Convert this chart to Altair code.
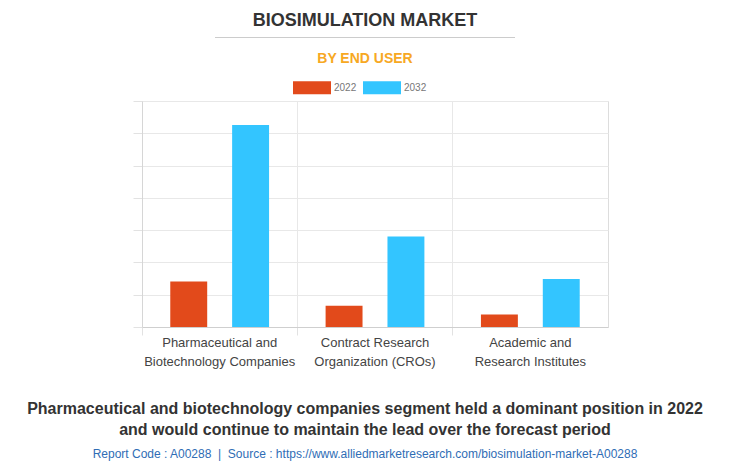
import altair as alt
import pandas as pd

categories = [
    "Pharmaceutical and Biotechnology Companies",
    "Contract Research Organization (CROs)",
    "Academic and Research Institutes",
]
label_lines = [
    ["Pharmaceutical and", "Biotechnology Companies"],
    ["Contract Research", "Organization (CROs)"],
    ["Academic and", "Research Institutes"],
]
years = ["2022", "2032"]
values_2022 = [1.41, 0.66, 0.39]
values_2032 = [6.26, 2.80, 1.49]
colors = ["#E24A1B", "#33C5FF"]

rows = []
for c, v1, v2 in zip(categories, values_2022, values_2032):
    rows.append({"category": c, "year": "2022", "value": v1})
    rows.append({"category": c, "year": "2032", "value": v2})
df = pd.DataFrame(rows)

W, H = 466, 226
FONT = "Liberation Sans"

label_map = "{" + ", ".join(
    "'%s': ['%s', '%s']" % (c, l[0], l[1]) for c, l in zip(categories, label_lines)
) + "}"

bars = alt.Chart(df).mark_bar().encode(
    x=alt.X("category:N", sort=categories, title=None,
            scale=alt.Scale(paddingInner=0, paddingOuter=0),
            axis=alt.Axis(bandPosition=0, labelAngle=0,
                          labelExpr=label_map + "[datum.label]",
                          labelFont=FONT, labelFontSize=13, labelColor="#444",
                          labelLineHeight=19, labelPadding=1,
                          ticks=True, tickSize=8, tickColor="#e2e2e2",
                          grid=True, gridColor="#e8e8e8",
                          domain=True, domainColor="#cfcfcf")),
    xOffset=alt.XOffset("year:N", sort=years,
                        scale=alt.Scale(paddingInner=0.403, paddingOuter=0.457)),
    y=alt.Y("value:Q", title=None,
            scale=alt.Scale(domain=[0, 7], nice=False),
            axis=alt.Axis(values=list(range(0, 8)), labels=False,
                          ticks=True, tickSize=9, tickColor="#e2e2e2",
                          grid=True, gridColor="#e8e8e8",
                          domain=True, domainColor="#d6d6d6")),
    color=alt.Color("year:N", sort=years,
                    scale=alt.Scale(domain=years, range=colors),
                    legend=alt.Legend(title=None, orient="none", direction="horizontal",
                                      legendX=151, legendY=-32.5,
                                      symbolType="M-1,-0.342H1V0.342H-1Z",
                                      symbolSize=1444, symbolStrokeWidth=0,
                                      labelFont=FONT, labelFontSize=10, labelColor="#777",
                                      labelOffset=3, columnPadding=6, padding=0)),
)

def txt(text, x, y, size, color, weight="normal"):
    return alt.Chart(pd.DataFrame({"t": [text]})).mark_text(
        font=FONT, fontSize=size, color=color, fontWeight=weight,
        align="center", baseline="middle"
    ).encode(text="t:N", x=alt.value(x), y=alt.value(y))

ox, oy = 142, 101
title = txt("BIOSIMULATION MARKET", 365 - ox, 21 - oy, 18, "#333333", "bold")
sub = txt("BY END USER", 365 - ox, 59 - oy, 14, "#F7A823", "bold")
rule = alt.Chart(pd.DataFrame({"a": [0]})).mark_rule(color="#cccccc", strokeWidth=1).encode(
    x=alt.value(215 - ox), x2=alt.value(515 - ox), y=alt.value(37.5 - oy))
foot1 = txt("Pharmaceutical and biotechnology companies segment held a dominant position in 2022",
            365 - ox, 409 - oy, 16, "#333333", "bold")
foot2 = txt("and would continue to maintain the lead over the forecast period",
            365 - ox, 430 - oy, 16, "#333333", "bold")
foot3 = txt("Report Code : A00288\u00a0 |\u00a0 Source : https://www.alliedmarketresearch.com/biosimulation-market-A00288",
            365 - ox, 454 - oy, 12, "#2F6DB5")

chart = alt.layer(bars, title, sub, rule, foot1, foot2, foot3).properties(
    width=W, height=H,
    autosize=alt.AutoSizeParams(type="none"),
    padding={"left": ox - 8, "top": oy - 8, "right": 714 - (ox - 8) - W, "bottom": 457 - (oy - 8) - H},
).configure_view(stroke=None).configure(background="#ffffff")

chart.save("out.html", embed_options={"renderer": "svg", "actions": False})
